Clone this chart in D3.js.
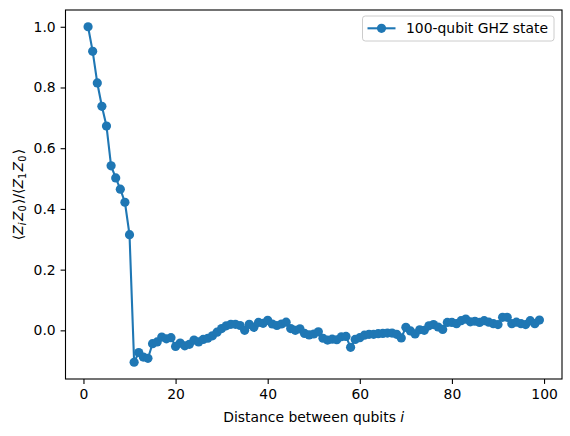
<!DOCTYPE html>
<html>
<head>
<meta charset="utf-8">
<script src="https://cdn.jsdelivr.net/npm/d3@7"></script>
<style>
  html, body { margin: 0; padding: 0; background: #fff; }
  svg { display: block; font-family: "DejaVu Sans", sans-serif; }
</style>
</head>
<body>
<svg id="chart" width="570" height="436"></svg>
<script>
// ---- data ----
const distances = [
  1,2,3,4,5,6,7,8,9,10,11,12,13,14,15,16,17,18,19,20,
  21,22,23,24,25,26,27,28,29,30,31,32,33,34,35,36,37,38,39,40,
  41,42,43,44,45,46,47,48,49,50,51,52,53,54,55,56,57,58,59,60,
  61,62,63,64,65,66,67,68,69,70,71,72,73,74,75,76,77,78,79,80,
  81,82,83,84,85,86,87,88,89,90,91,92,93,94,95,96,97,98,99
];
const ratios = [
  1.000, 0.919, 0.815, 0.738, 0.673, 0.542, 0.502, 0.465, 0.422, 0.315,
  -0.105, -0.073, -0.088, -0.092, -0.044, -0.038, -0.022, -0.028, -0.024, -0.053,
  -0.042, -0.051, -0.046, -0.032, -0.038, -0.030, -0.026, -0.018, -0.006, 0.006,
  0.015, 0.020, 0.020, 0.016, 0.000, 0.020, 0.010, 0.026, 0.023, 0.033,
  0.021, 0.016, 0.021, 0.027, 0.006, 0.000, 0.005, -0.010, -0.015, -0.012,
  -0.005, -0.026, -0.032, -0.029, -0.031, -0.021, -0.020, -0.056, -0.030, -0.024,
  -0.016, -0.013, -0.013, -0.011, -0.010, -0.009, -0.009, -0.013, -0.025, 0.010,
  -0.002, -0.012, 0.002, 0.000, 0.015, 0.019, 0.011, 0.003, 0.026, 0.026,
  0.022, 0.032, 0.037, 0.028, 0.030, 0.026, 0.032, 0.027, 0.022, 0.019,
  0.043, 0.043, 0.022, 0.027, 0.022, 0.019, 0.032, 0.022, 0.034
];
const xTicks = [0, 20, 40, 60, 80, 100];
const yTicks = [0.0, 0.2, 0.4, 0.6, 0.8, 1.0];
const seriesLabel = "100-qubit GHZ state";
const xLabel = "Distance between qubits ";
const xLabelItalic = "i";

// ---- layout ----
const W = 570, H = 436;
const plot = { left: 65.5, right: 562, top: 10, bottom: 379 };
const color = "#1f77b4";
const fontSize = 13.9;

const svg = d3.select("#chart");
svg.append("rect").attr("width", W).attr("height", H).attr("fill", "#fff");

const pts = distances.map((d, i) => ({ x: d, y: ratios[i] }));

function padded(ext) {
  const m = (ext[1] - ext[0]) * 0.05;
  return [ext[0] - m, ext[1] + m];
}
const x = d3.scaleLinear().domain(padded(d3.extent(distances))).range([plot.left, plot.right]);
const y = d3.scaleLinear().domain(padded(d3.extent(ratios))).range([plot.bottom, plot.top]);

// axes
const xAxis = d3.axisBottom(x).tickValues(xTicks).tickFormat(d3.format("d")).tickSize(4.9).tickPadding(4.9);
const yAxis = d3.axisLeft(y).tickValues(yTicks).tickFormat(d3.format(".1f")).tickSize(4.9).tickPadding(4.9);

const gx = svg.append("g").attr("transform", `translate(0,${plot.bottom})`).call(xAxis);
const gy = svg.append("g").attr("transform", `translate(${plot.left},0)`).call(yAxis);
[gx, gy].forEach(g => {
  g.select(".domain").remove();
  g.selectAll(".tick line").attr("stroke", "#000").attr("stroke-width", 1.1);
  g.selectAll(".tick text").attr("fill", "#000").attr("font-size", fontSize)
    .attr("font-family", "DejaVu Sans, sans-serif");
});

// line + markers
const line = d3.line().x(d => x(d.x)).y(d => y(d.y));
svg.append("path").datum(pts).attr("d", line)
  .attr("fill", "none").attr("stroke", color).attr("stroke-width", 2.1)
  .attr("stroke-linejoin", "round").attr("stroke-linecap", "square");
svg.append("g").selectAll("circle").data(pts).join("circle")
  .attr("cx", d => x(d.x)).attr("cy", d => y(d.y)).attr("r", 4.6)
  .attr("fill", color);

// frame
svg.append("rect")
  .attr("x", plot.left).attr("y", plot.top)
  .attr("width", plot.right - plot.left).attr("height", plot.bottom - plot.top)
  .attr("fill", "none").attr("stroke", "#000").attr("stroke-width", 1.1);

// x label
const xl = svg.append("text")
  .attr("x", (plot.left + plot.right) / 2).attr("y", 422)
  .attr("text-anchor", "middle").attr("font-size", fontSize).attr("fill", "#000");
xl.append("tspan").text(xLabel);
xl.append("tspan").attr("font-style", "italic").text(xLabelItalic);

// y label (mathtext-like)
const yl = svg.append("text")
  .attr("transform", `translate(23,${(plot.top + plot.bottom) / 2}) rotate(-90)`)
  .attr("text-anchor", "middle").attr("font-size", fontSize).attr("fill", "#000");
const subSize = 9.7, shift = 2.6;
function addZ(sub, italicSub) {
  yl.append("tspan").attr("font-style", "italic").text("Z");
  yl.append("tspan").attr("font-size", subSize).attr("dy", shift)
    .attr("font-style", italicSub ? "italic" : "normal").text(sub);
  yl.append("tspan").attr("dy", -shift).text("\u200A");
}
yl.append("tspan").text("\u27E8");
addZ("i", true);
addZ("0", false);
yl.append("tspan").text("\u27E9/\u27E8");
addZ("1", false);
addZ("0", false);
yl.append("tspan").text("\u27E9");

// legend
const lg = svg.append("g");
lg.append("rect").attr("x", 362.5).attr("y", 16).attr("width", 191.5).attr("height", 25)
  .attr("rx", 2.8).attr("fill", "#fff").attr("fill-opacity", 0.8)
  .attr("stroke", "#cccccc").attr("stroke-width", 1);
lg.append("line").attr("x1", 367.5).attr("x2", 395.5).attr("y1", 28.3).attr("y2", 28.3)
  .attr("stroke", color).attr("stroke-width", 2.1);
lg.append("circle").attr("cx", 381.5).attr("cy", 28.3).attr("r", 4.6).attr("fill", color);
lg.append("text").attr("x", 406).attr("y", 33.3).attr("font-size", fontSize).attr("fill", "#000")
  .text(seriesLabel);
</script>
</body>
</html>
